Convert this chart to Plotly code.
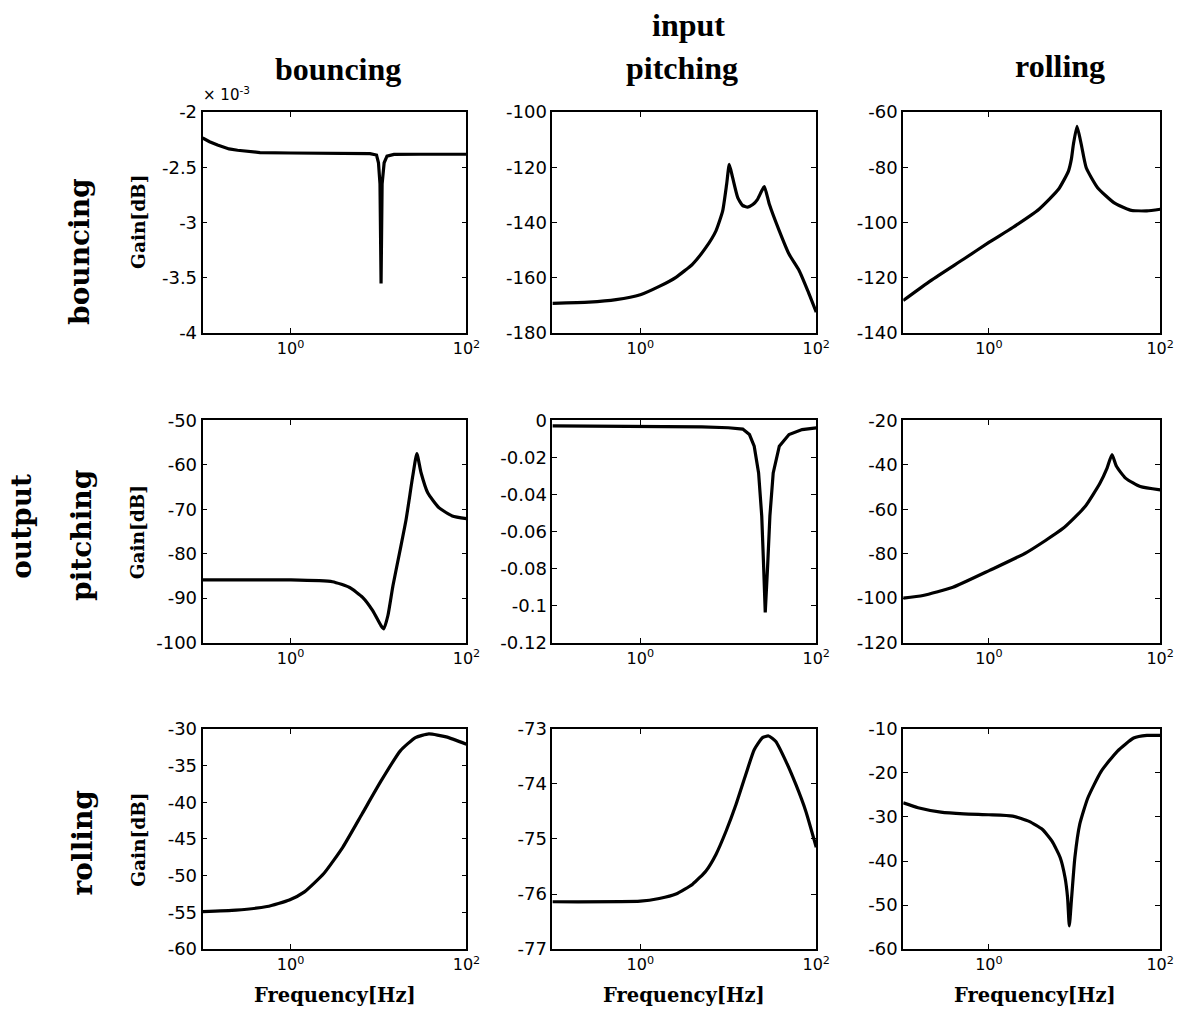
import plotly.graph_objects as go

# Frequency response magnitudes (gain in dB) for each input -> output pair.
# Rows: output (bouncing, pitching, rolling); columns: input (bouncing, pitching, rolling).

# output bouncing
f_bb = [0.10, 0.12, 0.148, 0.20, 0.25, 0.35, 0.45, 1.0, 3.0, 8.0, 9.5, 10.0, 10.4, 10.7, 11.0, 11.6, 12.5, 15.0, 30.0, 100.0]
g_bb = [-2.236e-3, -2.27e-3, -2.30e-3, -2.335e-3, -2.347e-3, -2.36e-3, -2.368e-3, -2.372e-3, -2.375e-3, -2.378e-3,
        -2.39e-3, -2.46e-3, -2.65e-3, -3.55e-3, -2.65e-3, -2.46e-3, -2.40e-3, -2.385e-3, -2.383e-3, -2.383e-3]

f_pb = [0.10, 0.26, 0.53, 1.0, 1.64, 2.54, 3.93, 5.57, 7.24, 8.63, 9.57, 10.26, 11.2, 12.8, 14.5, 16.6, 19.0, 21.5,
        24.0, 25.7, 29.3, 38.0, 49.0, 64.0, 80.0, 100.0]
g_pb = [-169.2, -168.8, -167.9, -166.1, -163.1, -159.8, -155.0, -149.0, -143.0, -135.8, -126.2, -119.0, -123.8, -131.0,
        -133.8, -134.4, -133.5, -131.6, -128.5, -127.0, -133.4, -143.0, -151.4, -157.4, -164.6, -172.4]

f_rb = [0.10, 0.21, 0.51, 1.0, 1.9, 3.85, 6.5, 8.5, 9.2, 9.7, 10.7, 12.0, 13.7, 18.6, 28.8, 44.7, 70.0, 100.0]
g_rb = [-128.2, -121.0, -113.2, -107.2, -101.8, -95.2, -88.0, -81.4, -77.0, -71.8, -65.2, -71.8, -80.2, -87.4, -92.8,
        -95.5, -95.8, -95.2]

# output pitching
f_bp = [0.10, 1.0, 3.0, 4.7, 6.6, 8.6, 10.7, 11.5, 12.8, 14.6, 17.4, 20.6, 24.5, 27.3, 30.5, 36.3, 49.0, 69.0, 100.0]
g_bp = [-85.9, -85.9, -86.3, -87.6, -89.8, -92.8, -96.2, -96.9, -93.9, -87.2, -79.7, -72.3, -62.6, -57.5, -61.8,
        -66.3, -69.7, -71.5, -72.1]

f_pp = [0.10, 1.0, 5.0, 10.0, 14.6, 17.4, 19.7, 22.1, 24.0, 25.2, 26.3, 28.0, 29.7, 32.4, 38.0, 49.0, 69.0, 100.0]
g_pp = [-0.0030, -0.0032, -0.0035, -0.0040, -0.0047, -0.0077, -0.014, -0.0284, -0.0517, -0.0786, -0.1037, -0.0786,
        -0.0517, -0.0284, -0.014, -0.0077, -0.0050, -0.0041]

f_rp = [0.10, 0.17, 0.38, 1.02, 2.74, 7.36, 13.3, 19.8, 24.0, 27.4, 30.9, 39.4, 58.6, 100.0]
g_rp = [-100.0, -98.8, -95.1, -87.5, -79.5, -68.6, -58.8, -48.3, -41.5, -35.4, -40.7, -46.0, -49.8, -51.3]

# output rolling
f_br = [0.10, 0.24, 0.54, 0.97, 1.44, 2.39, 3.94, 6.5, 10.7, 17.7, 26.3, 37.4, 58.9, 100.0]
g_br = [-54.9, -54.7, -54.2, -53.3, -52.2, -49.7, -46.1, -41.6, -37.1, -33.0, -31.2, -30.7, -31.1, -32.1]

f_pr = [0.10, 1.0, 1.64, 2.54, 3.93, 5.57, 7.24, 9.42, 12.2, 15.8, 19.7, 24.5, 28.7, 34.7, 45.2, 58.6, 75.9, 100.0]
g_pr = [-76.14, -76.13, -76.08, -76.0, -75.82, -75.58, -75.28, -74.86, -74.38, -73.83, -73.38, -73.16, -73.13,
        -73.23, -73.59, -74.01, -74.49, -75.15]

f_rr = [0.10, 0.149, 0.275, 0.51, 1.0, 1.9, 2.95, 4.2, 5.46, 6.8, 7.76, 8.3, 8.7, 9.25, 10.1, 11.5, 14.3, 20.4,
        31.6, 49.0, 70.0, 100.0]
g_rr = [-26.8, -27.9, -28.9, -29.3, -29.5, -29.8, -31.0, -32.8, -35.5, -39.2, -43.8, -48.3, -54.7, -48.3, -39.2,
        -31.7, -25.7, -19.7, -15.1, -12.1, -11.5, -11.5]

# y-axis limits and tick step per panel (row-major)
y_lims = [(-4e-3, -2e-3, 0.5e-3), (-180, -100, 20), (-140, -60, 20),
          (-100, -50, 10), (-0.12, 0.0, 0.02), (-120, -20, 20),
          (-60, -30, 5), (-77, -73, 1), (-60, -10, 10)]

input_labels = ["bouncing", "pitching", "rolling"]
output_labels = ["bouncing", "pitching", "rolling"]
x_tick_vals = [1, 100]
x_tick_text = ["10<sup>0</sup>", "10<sup>2</sup>"]
scaled_tick_text = ["-4", "-3.5", "-3", "-2.5", "-2"]
small_tick_text = ["-0.12", "-0.1", "-0.08", "-0.06", "-0.04", "-0.02", "0"]

series = [(f_bb, g_bb), (f_pb, g_pb), (f_rb, g_rb),
          (f_bp, g_bp), (f_pp, g_pp), (f_rp, g_rp),
          (f_br, g_br), (f_pr, g_pr), (f_rr, g_rr)]

# notch panels are drawn with straight segments, the rest smoothed
smooth = [False, True, True, True, False, True, True, True, True]

W, H = 1187, 1013
col_px = [(205, 472), (559, 826), (914, 1174)]
row_px = [(103, 329), (418, 645), (733, 958)]

fig = go.Figure()
layout = dict(width=W, height=H, autosize=False, margin=dict(l=0, r=0, t=0, b=0),
              paper_bgcolor="white", plot_bgcolor="white", showlegend=False)

y_tick_font = dict(family="DejaVu Sans", size=18, color="black")
x_tick_font = dict(family="DejaVu Sans", size=16, color="black")

for i, (freq, gain) in enumerate(series):
    r, c = divmod(i, 3)
    n = "" if i == 0 else str(i + 1)
    line = dict(color="black", width=3.2)
    if smooth[i]:
        line.update(shape="spline", smoothing=0.5)
    fig.add_trace(go.Scatter(x=freq, y=gain, mode="lines", line=line,
                             xaxis="x" + n, yaxis="y" + n, hoverinfo="skip"))
    x0, x1 = col_px[c]
    y0, y1 = row_px[r]
    lo, hi, step = y_lims[i]
    nt = int(round((hi - lo) / step))
    yvals = [lo + k * step for k in range(nt + 1)]
    ax_common = dict(showline=True, linecolor="black", linewidth=1.8, mirror="ticks",
                     ticks="inside", ticklen=5, tickwidth=1.2, tickcolor="black",
                     showgrid=False, zeroline=False)
    layout["xaxis" + n] = dict(type="log", range=[-1, 2], domain=[x0 / W, x1 / W],
                               anchor="y" + n, tickvals=x_tick_vals, ticktext=x_tick_text,
                               tickfont=x_tick_font, **ax_common)
    yax = dict(range=[lo, hi], domain=[1 - y1 / H, 1 - y0 / H], anchor="x" + n,
               tickvals=yvals, tickfont=y_tick_font, **ax_common)
    if i == 0:
        yax["ticktext"] = scaled_tick_text
    elif i == 4:
        yax["ticktext"] = small_tick_text
    else:
        yax["ticktext"] = ["%g" % v for v in yvals]
    layout["yaxis" + n] = yax

fig.update_layout(**layout)

ann = []
def px_note(text, x, y, size, family, angle=0, xanchor="center", bold=True):
    ann.append(dict(text=text, x=x / W, y=1 - y / H, xref="paper", yref="paper",
                    showarrow=False, xanchor=xanchor, yanchor="middle", textangle=angle,
                    font=dict(family=family, size=size, color="black",
                              weight="bold" if bold else "normal")))

title_font = "Liberation Serif"
slab_font = "DejaVu Serif"

px_note("input", 697, 14, 32, title_font)
for (cx, cy), lab in zip([(342, 59), (690, 58), (1073, 56)], input_labels):
    px_note(lab, cx, cy, 32, title_font)

px_note("output", 21, 526, 28, slab_font, angle=-90)
for (cx, cy), lab in zip([(81, 246), (83, 536), (83, 850)], output_labels):
    px_note(lab, cx, cy, 28, slab_font, angle=-90)

for cy in [215, 532, 846]:
    px_note("Gain[dB]", 140, cy, 18.5, slab_font, angle=-90)

for cx in [339, 692, 1047]:
    px_note("Frequency[Hz]", cx, 1005, 19.5, slab_font)

px_note("× 10<sup>-3</sup>", 203, 85, 15, "DejaVu Sans", xanchor="left", bold=False)

fig.update_layout(annotations=ann)
fig.write_html("out.html", post_script="document.body.style.margin='0px';")
